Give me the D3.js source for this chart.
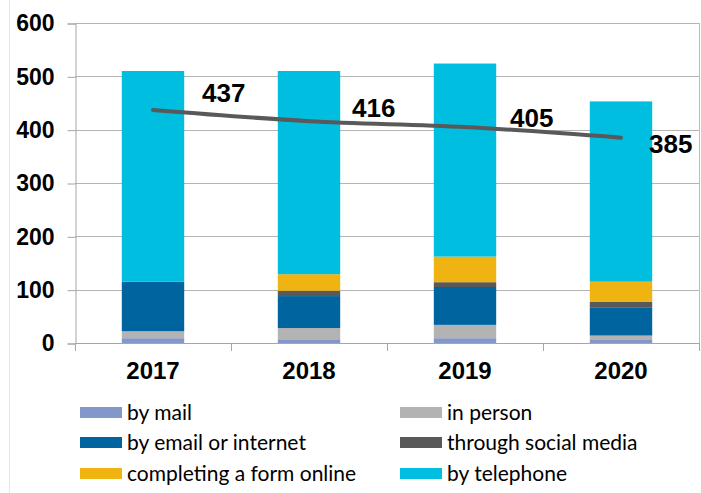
<!DOCTYPE html>
<html><head><meta charset="utf-8">
<script src="https://cdn.jsdelivr.net/npm/d3@7/dist/d3.min.js"></script>
<style>
html,body{margin:0;padding:0;background:#fff;}
svg{display:block;}
</style></head>
<body>
<svg id="chart" width="701" height="493"></svg>
<script>
const years = ["2017", "2018", "2019", "2020"];
const seriesNames = ["by mail", "in person", "by email or internet", "through social media", "completing a form online", "by telephone"];
const byMail = [9, 7, 9, 7];
const inPerson = [13, 21, 25, 7];
const byEmail = [93, 60, 71, 53];
const socialMedia = [0, 10, 9, 10];
const formOnline = [0, 31, 48, 38];
const byTelephone = [395, 381, 362, 338];
const totalLine = [437, 416, 405, 385];
const yTicks = [0, 100, 200, 300, 400, 500, 600];

const colors = ["#8497CB", "#B3B3B3", "#00659E", "#595959", "#EFB312", "#00BEDF"];
const seriesVals = [byMail, inPerson, byEmail, socialMedia, formOnline, byTelephone];

const svg = d3.select("#chart");
const pLeft = 75, pRight = 699, pTop = 23, pBottom = 343;

const y = d3.scaleLinear().domain([0, 600]).range([pBottom, pTop]);
const x = d3.scaleBand().domain(years).range([pLeft, pRight]).paddingInner(0.6).paddingOuter(0.3);

// faint outer borders
svg.append("line").attr("x1", 9.5).attr("x2", 9.5).attr("y1", 0).attr("y2", 493).attr("stroke", "#E8E8E8");
svg.append("line").attr("x1", 699.5).attr("x2", 699.5).attr("y1", pTop).attr("y2", pBottom).attr("stroke", "#BDBDBD");

// gridlines
svg.append("g").selectAll("line").data(yTicks).join("line")
  .attr("x1", pLeft).attr("x2", pRight)
  .attr("y1", d => Math.round(y(d)) + 0.5).attr("y2", d => Math.round(y(d)) + 0.5)
  .attr("stroke", "#B4B4B4").attr("stroke-width", 1);

// y axis
const yAxis = d3.axisLeft(y).tickValues(yTicks).tickSize(8).tickPadding(13);
const gy = svg.append("g").attr("transform", `translate(${pLeft + 0.5},0.5)`).call(yAxis);
gy.select(".domain").attr("stroke", "#A6A6A6");
gy.selectAll(".tick line").attr("stroke", "#A6A6A6");
gy.selectAll(".tick text").attr("font-family", "'Liberation Sans', Arial, sans-serif")
  .attr("font-weight", "bold").attr("font-size", 23).attr("fill", "#000");

// stacked bars
const stackData = years.map((yr, i) => {
  const o = { year: yr };
  seriesNames.forEach((s, j) => o[s] = seriesVals[j][i]);
  return o;
});
const stack = d3.stack().keys(seriesNames)(stackData);
svg.append("g").selectAll("g").data(stack).join("g")
  .attr("fill", (d, i) => colors[i])
  .selectAll("rect").data(d => d).join("rect")
  .attr("x", d => x(d.data.year))
  .attr("width", x.bandwidth())
  .attr("y", d => y(d[1]))
  .attr("height", d => Math.max(0, y(d[0]) - y(d[1])));

// x axis
svg.append("line").attr("x1", pLeft).attr("x2", pRight).attr("y1", pBottom + 0.5).attr("y2", pBottom + 0.5).attr("stroke", "#A6A6A6");
const step = x.step();
svg.append("g").selectAll("line").data(d3.range(years.length + 1)).join("line")
  .attr("x1", i => Math.round(pLeft + i * step) + 0.5).attr("x2", i => Math.round(pLeft + i * step) + 0.5)
  .attr("y1", pBottom).attr("y2", pBottom + 8).attr("stroke", "#A6A6A6");
svg.append("g").selectAll("text").data(years).join("text")
  .attr("x", d => x(d) + x.bandwidth() / 2).attr("y", 379)
  .attr("text-anchor", "middle")
  .attr("font-family", "'Liberation Sans', Arial, sans-serif")
  .attr("font-weight", "bold").attr("font-size", 24).text(d => d);

// total line
const line = d3.line().x((d, i) => x(years[i]) + x.bandwidth() / 2).y(d => y(d)).curve(d3.curveMonotoneX);
svg.append("path").datum(totalLine).attr("d", line)
  .attr("fill", "none").attr("stroke", "#595959").attr("stroke-width", 4).attr("stroke-linecap", "round");

// labels
const labelDx = [49, 43, 45, 28];
const labelDy = [-18, -14, -10, 5];
svg.append("g").selectAll("text").data(totalLine).join("text")
  .attr("x", (d, i) => x(years[i]) + x.bandwidth() / 2 + labelDx[i])
  .attr("y", (d, i) => y(d) + labelDy[i] + 10)
  .attr("font-family", "'Liberation Sans', Arial, sans-serif")
  .attr("font-weight", "bold").attr("font-size", 26).text(d => d);

// legend
const legCols = [80, 400];
const legRows = [407, 437, 468];
const lg = svg.append("g").selectAll("g").data(seriesNames).join("g")
  .attr("transform", (d, i) => `translate(${legCols[i % 2]},${legRows[Math.floor(i / 2)]})`);
lg.append("rect").attr("width", 42).attr("height", 11).attr("fill", (d, i) => colors[i]);
lg.append("text").attr("x", 47).attr("y", 12.5)
  .attr("font-family", "Lato, sans-serif")
  .attr("font-size", 21).attr("fill", "#000").text(d => d);
</script>
</body></html>
